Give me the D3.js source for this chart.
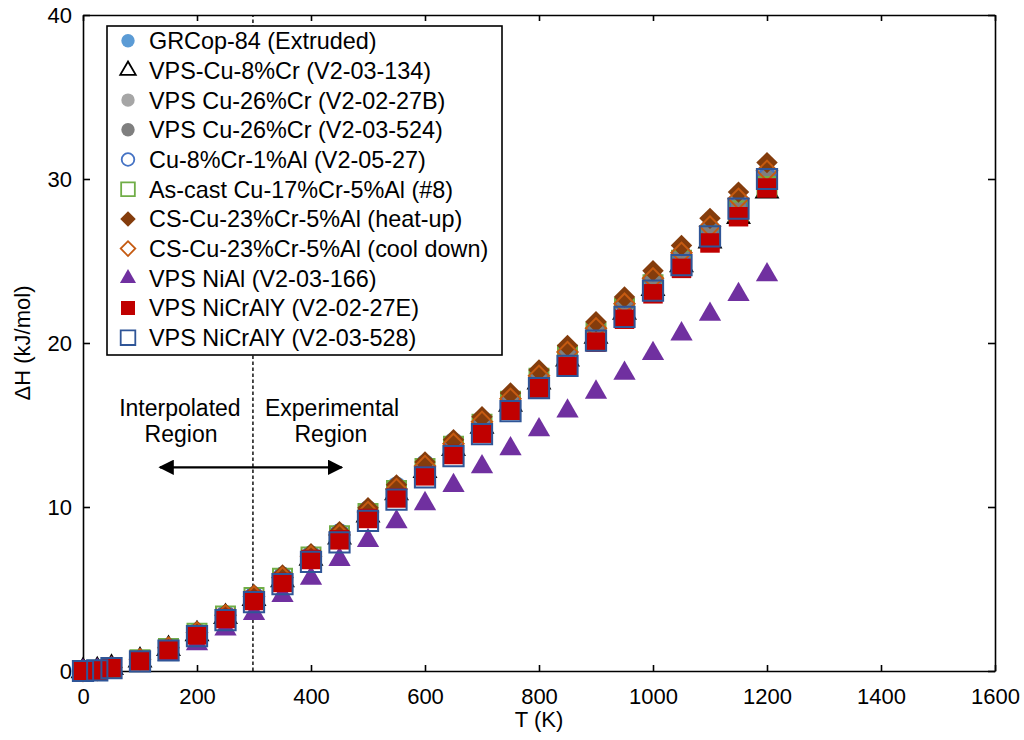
<!DOCTYPE html>
<html>
<head>
<meta charset="utf-8">
<script src="https://cdn.jsdelivr.net/npm/d3@7"></script>
<style>
  body { margin: 0; background: #fff; }
  svg { font-family: "Liberation Sans", Arial, sans-serif; }
</style>
</head>
<body>
<svg width="1024" height="740"></svg>
<script>
// temperatures (K)
var temps = [0, 25, 50, 100, 150, 200, 250, 300, 350, 400, 450, 500, 550, 600, 650, 700, 750, 800, 850, 900, 950, 1000, 1050, 1100, 1150, 1200];

// enthalpy dH (kJ/mol) per material
var grcop      = [0, 0.06, 0.22, 0.72, 1.45, 2.4, 3.45, 4.6, 5.8, 7.1, 8.45, 9.85, 11.3, 12.65, 14.0, 15.35, 16.75, 18.1, 19.55, 21.0, 22.45, 23.9, 25.4, 26.9, 28.45, 30.05];
var cu8cr      = [0, 0.05, 0.2, 0.65, 1.35, 2.25, 3.3, 4.4, 5.55, 6.85, 8.15, 9.5, 10.85, 12.2, 13.55, 14.9, 16.25, 17.6, 19.0, 20.4, 21.85, 23.3, 24.75, 26.2, 27.7, 29.25];
var cu26crB    = [0, 0.06, 0.21, 0.7, 1.42, 2.35, 3.4, 4.55, 5.75, 7.0, 8.35, 9.75, 11.15, 12.5, 13.9, 15.3, 16.7, 18.1, 19.55, 21.0, 22.5, 24.0, 25.5, 27.05, 28.6, 30.4];
var cu26cr524  = [0, 0.06, 0.21, 0.69, 1.4, 2.33, 3.38, 4.52, 5.7, 6.95, 8.3, 9.7, 11.05, 12.45, 13.8, 15.2, 16.6, 18.0, 19.45, 20.9, 22.35, 23.85, 25.35, 26.9, 28.45, 30.2];
var cu8cr1al   = [0, 0.06, 0.22, 0.71, 1.43, 2.36, 3.42, 4.57, 5.76, 7.05, 8.4, 9.8, 11.2, 12.55, 13.9, 15.3, 16.7, 18.05, 19.5, 20.95, 22.4, 23.9, 25.4, 26.9, 28.4, 30.1];
var ascast     = [0, 0.05, 0.2, 0.68, 1.38, 2.3, 3.35, 4.48, 5.65, 6.95, 8.25, 9.6, 11.0, 12.35, 13.7, 15.05, 16.45, 17.85, 19.25, 20.65, 22.1, 23.55, 25.05, 26.55, 28.05, 29.55];
var csHeat     = [0, 0.06, 0.23, 0.75, 1.48, 2.42, 3.48, 4.65, 5.85, 7.15, 8.5, 9.95, 11.35, 12.75, 14.1, 15.5, 16.95, 18.35, 19.85, 21.3, 22.8, 24.4, 25.95, 27.6, 29.2, 31.0];
var csCool     = [0, 0.06, 0.22, 0.72, 1.42, 2.35, 3.4, 4.55, 5.7, 7.0, 8.3, 9.7, 11.1, 12.5, 13.85, 15.2, 16.6, 18.0, 19.45, 20.9, 22.4, 23.95, 25.5, 27.1, 28.8, 30.5];
var nial       = [0, 0.04, 0.15, 0.5, 1.0, 1.65, 2.55, 3.5, 4.6, 5.65, 6.8, 7.95, 9.1, 10.2, 11.3, 12.45, 13.55, 14.7, 15.85, 17.0, 18.15, 19.35, 20.55, 21.75, 22.95, 24.15];
var nicraly27E = [0, 0.05, 0.2, 0.62, 1.3, 2.2, 3.2, 4.3, 5.4, 6.8, 8.0, 9.3, 10.55, 11.9, 13.2, 14.5, 15.9, 17.25, 18.55, 20.05, 21.45, 23.0, 24.55, 26.1, 27.7, 29.45];
var nicraly528 = [0, 0.04, 0.18, 0.58, 1.25, 2.12, 3.1, 4.2, 5.3, 6.65, 7.85, 9.15, 10.45, 11.8, 13.1, 14.45, 15.85, 17.25, 18.6, 20.15, 21.6, 23.2, 24.75, 26.5, 28.2, 30.0];

var seriesNames = ["GRCop-84 (Extruded)", "VPS-Cu-8%Cr (V2-03-134)", "VPS Cu-26%Cr (V2-02-27B)", "VPS Cu-26%Cr (V2-03-524)",
  "Cu-8%Cr-1%Al (V2-05-27)", "As-cast Cu-17%Cr-5%Al (#8)", "CS-Cu-23%Cr-5%Al (heat-up)", "CS-Cu-23%Cr-5%Al (cool down)",
  "VPS NiAl (V2-03-166)", "VPS NiCrAlY (V2-02-27E)", "VPS NiCrAlY (V2-03-528)"];
var seriesValues = [grcop, cu8cr, cu26crB, cu26cr524, cu8cr1al, ascast, csHeat, csCool, nial, nicraly27E, nicraly528];

var xTicks = [0, 200, 400, 600, 800, 1000, 1200, 1400, 1600];
var yTicks = [0, 10, 20, 30, 40];
var roomTemp = 298.15;

// marker styles, in legend order
var styles = [
  { type: d3.symbolCircle,   size: 270, fill: "#5B9BD5", stroke: "none",    rot: 0 },
  { type: d3.symbolTriangle, size: 200, fill: "none",    stroke: "#000",    rot: 0 },
  { type: d3.symbolCircle,   size: 270, fill: "#A6A6A6", stroke: "none",    rot: 0 },
  { type: d3.symbolCircle,   size: 270, fill: "#7F7F7F", stroke: "none",    rot: 0 },
  { type: d3.symbolCircle,   size: 240, fill: "none",    stroke: "#4472C4", rot: 0 },
  { type: d3.symbolSquare,   size: 360, fill: "none",    stroke: "#70AD47", rot: 0 },
  { type: d3.symbolSquare,   size: 230, fill: "#843C0C", stroke: "none",    rot: 45 },
  { type: d3.symbolSquare,   size: 205, fill: "none",    stroke: "#C55A11", rot: 45 },
  { type: d3.symbolTriangle, size: 215, fill: "#7030A0", stroke: "none",    rot: 0 },
  { type: d3.symbolSquare,   size: 380, fill: "#C00000", stroke: "none",    rot: 0 },
  { type: d3.symbolSquare,   size: 410, fill: "none",    stroke: "#2F5597", rot: 0 }
];

drawChart();

function drawChart() {
  var svg = d3.select("svg");
  var plotLeft = 83, plotRight = 995, plotTop = 15, plotBottom = 671;

  var x = d3.scaleLinear().domain([0, 1600]).range([plotLeft, plotRight]);
  var y = d3.scaleLinear().domain([0, 40]).range([plotBottom, plotTop]);

  // frame + inward ticks
  function styleAxis(g) {
    g.attr("font-family", null).attr("font-size", null);
    g.selectAll(".domain").attr("stroke", "#000").attr("stroke-width", 1.6);
    g.selectAll(".tick line").attr("stroke", "#000").attr("stroke-width", 1.6);
    g.selectAll(".tick text").attr("fill", "#000").attr("font-size", "22px");
  }

  svg.append("g").attr("transform", "translate(0," + plotBottom + ")")
    .call(d3.axisBottom(x).tickValues(xTicks).tickSize(-6).tickSizeOuter(0).tickPadding(17).tickFormat(d3.format("d")))
    .call(styleAxis);
  svg.append("g").attr("transform", "translate(0," + plotTop + ")")
    .call(d3.axisTop(x).tickValues(xTicks).tickSize(-6).tickSizeOuter(0).tickFormat(""))
    .call(styleAxis);
  svg.append("g").attr("transform", "translate(" + plotLeft + ",0)")
    .call(d3.axisLeft(y).tickValues(yTicks).tickSize(-7).tickSizeOuter(0).tickPadding(11).tickFormat(d3.format("d")))
    .call(styleAxis);
  svg.append("g").attr("transform", "translate(" + plotRight + ",0)")
    .call(d3.axisRight(y).tickValues(yTicks).tickSize(-7).tickSizeOuter(0).tickFormat(""))
    .call(styleAxis);

  // axis titles
  svg.append("text").attr("x", (plotLeft + plotRight) / 2).attr("y", 727)
    .attr("text-anchor", "middle").attr("font-size", "22px").text("T (K)");
  svg.append("text").attr("transform", "translate(30," + ((plotTop + plotBottom) / 2) + ") rotate(-90)")
    .attr("text-anchor", "middle").attr("font-size", "22px").text("ΔH (kJ/mol)");

  // room temperature divider
  svg.append("line")
    .attr("x1", x(roomTemp)).attr("x2", x(roomTemp))
    .attr("y1", y(0)).attr("y2", y(40))
    .attr("stroke", "#000").attr("stroke-width", 1.4).attr("stroke-dasharray", "3.5,2.5");

  // region annotation
  svg.append("defs").append("marker")
    .attr("id", "head").attr("viewBox", "0 0 10 10").attr("refX", 9).attr("refY", 5)
    .attr("markerWidth", 7).attr("markerHeight", 7).attr("orient", "auto-start-reverse")
    .append("path").attr("d", "M0,0 L10,5 L0,10 z").attr("fill", "#000");

  svg.append("line")
    .attr("x1", x(135)).attr("x2", x(454)).attr("y1", y(12.42)).attr("y2", y(12.42))
    .attr("stroke", "#000").attr("stroke-width", 2.2)
    .attr("marker-start", "url(#head)").attr("marker-end", "url(#head)");

  var notes = [
    { t: 170, v: 15.55, s: "Interpolated" }, { t: 172, v: 13.96, s: "Region" },
    { t: 437, v: 15.55, s: "Experimental" }, { t: 435, v: 13.96, s: "Region" }
  ];
  svg.selectAll(".note").data(notes).enter().append("text")
    .attr("class", "note")
    .attr("x", function(d) { return x(d.t); })
    .attr("y", function(d) { return y(d.v); })
    .attr("text-anchor", "middle").attr("font-size", "23px")
    .text(function(d) { return d.s; });

  // data points, drawn in legend order
  seriesValues.forEach(function(vals, i) {
    var st = styles[i];
    var sym = d3.symbol().type(st.type).size(st.size)();
    svg.append("g").selectAll("path").data(vals).enter().append("path")
      .attr("d", sym)
      .attr("transform", function(d, j) {
        return "translate(" + x(temps[j]) + "," + y(d) + ") rotate(" + st.rot + ")";
      })
      .attr("fill", st.fill)
      .attr("stroke", st.stroke)
      .attr("stroke-width", 2);
  });

  // legend
  var lg = svg.append("g");
  lg.append("rect").attr("x", 107).attr("y", 26).attr("width", 395).attr("height", 329)
    .attr("fill", "#fff").attr("stroke", "#000").attr("stroke-width", 1.6);

  var rows = lg.selectAll(".row").data(seriesNames).enter().append("g")
    .attr("transform", function(d, i) { return "translate(128," + (40.7 + i * 29.7) + ")"; });

  rows.append("path")
    .attr("d", function(d, i) {
      var st = styles[i];
      return d3.symbol().type(st.type).size(st.size * 0.52)();
    })
    .attr("transform", function(d, i) { return "rotate(" + styles[i].rot + ")"; })
    .attr("fill", function(d, i) { return styles[i].fill; })
    .attr("stroke", function(d, i) { return styles[i].stroke; })
    .attr("stroke-width", 1.8);

  rows.append("text").attr("x", 21).attr("y", 8.4)
    .attr("font-size", "23.4px").text(function(d) { return d; });
}
</script>
</body>
</html>
